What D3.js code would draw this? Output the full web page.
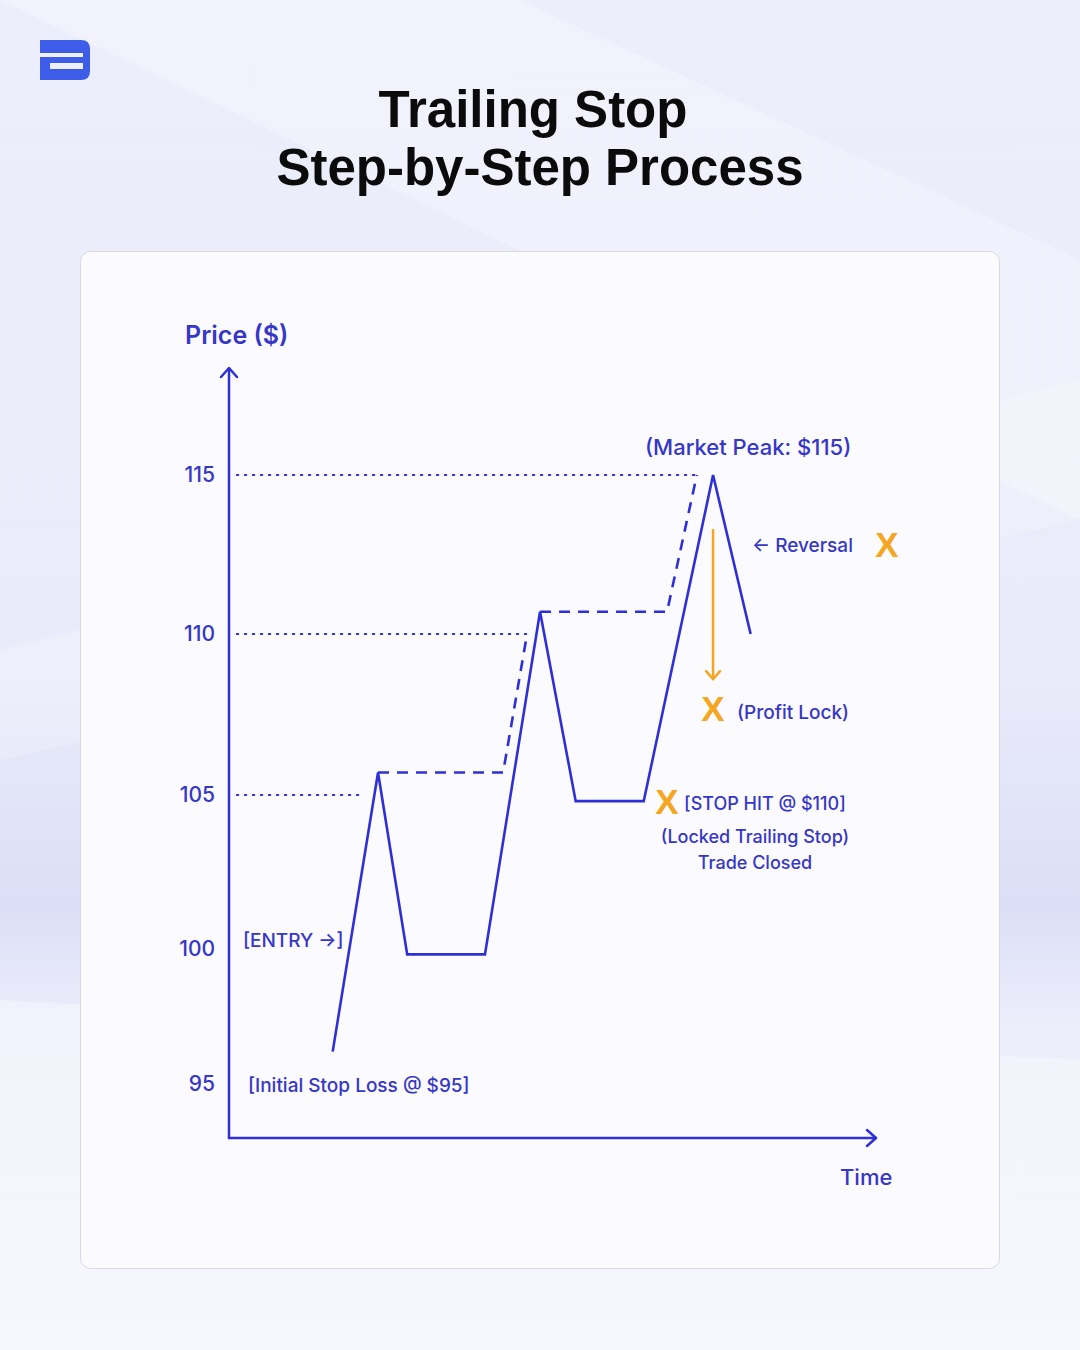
<html>
<head>
<meta charset="utf-8">
<script src="https://d3js.org/d3.v7.min.js"></script>
<style>
  body { margin: 0; background: #eef0fb; }
  svg { display: block; }
  .lbl { font-family: Inter, "Noto Sans", sans-serif; fill: #3636c9; font-weight: 500; }
</style>
</head>
<body>
<svg id="chart" width="1080" height="1350"></svg>
<script>
// price axis ticks and their (slightly uneven) positions in the picture
const priceTicks = [95, 100, 105, 110, 115];
const tickRows = [1084, 949, 795, 634, 475];

// price path: time (0-100 along the axis) and price
const pathTimes  = [16, 23, 27.5, 39.5, 48, 53.5, 64, 74.7, 80.5];
const pathPrices = [96.2, 105.7, 99.8, 99.8, 110.7, 104.8, 104.8, 115, 110];

// trailing stop, two dashed legs
const stop1Times  = [23, 42.3, 46];
const stop1Prices = [105.7, 105.7, 110];
const stop2Times  = [48, 67.6, 72.2];
const stop2Prices = [110.7, 110.7, 115];

// dotted guide lines to each level
const guideLevels = [115, 110, 105];
const guideEnds   = [72.2, 46, 20.7];

// profit lock arrow
const lockTime = 74.7;
const lockFrom = 113.3, lockTo = 108.6;

const svg = d3.select('#chart');
const blue = '#2f2fd8';
const orange = '#f5a623';

// background
const defs = svg.append('defs');
const bg = defs.append('linearGradient').attr('id', 'bg').attr('x1', 0).attr('y1', 0).attr('x2', 0).attr('y2', 1);
bg.append('stop').attr('offset', '0%').attr('stop-color', '#eceefb');
bg.append('stop').attr('offset', '50%').attr('stop-color', '#e9ebfa');
bg.append('stop').attr('offset', '67%').attr('stop-color', '#dcdef7');
bg.append('stop').attr('offset', '76%').attr('stop-color', '#eceefb');
bg.append('stop').attr('offset', '100%').attr('stop-color', '#f4f5fc');
svg.append('rect').attr('width', 1080).attr('height', 1350).attr('fill', 'url(#bg)');
svg.append('path').attr('d', 'M0,0 L520,0 L1080,260 L1080,520 Z').attr('fill', '#ffffff').attr('opacity', 0.25);
svg.append('path').attr('d', 'M0,650 L1080,380 L1080,520 L0,760 Z').attr('fill', '#ffffff').attr('opacity', 0.2);
svg.append('path').attr('d', 'M0,1000 L1080,1060 L1080,1350 L0,1350 Z').attr('fill', '#ffffff').attr('opacity', 0.3);

// logo
svg.append('path').attr('d', 'M40,40 H81 Q90,40 90,49 V71 Q90,80 81,80 H40 Z').attr('fill', '#3d5ce8');
svg.append('rect').attr('x', 40).attr('y', 53).attr('width', 43).attr('height', 4).attr('fill', '#eef0fb');
svg.append('rect').attr('x', 50).attr('y', 63).attr('width', 33).attr('height', 6).attr('fill', '#eef0fb');

// title
const title = svg.append('text').attr('text-anchor', 'middle')
  .style('font-family', '"Liberation Sans", Arial, sans-serif').style('font-weight', 'bold')
  .style('font-size', '51px').attr('fill', '#0b0b0b');
title.append('tspan').attr('x', 533).attr('y', 127).text('Trailing Stop');
title.append('tspan').attr('x', 540).attr('y', 185).text('Step-by-Step Process');

// card
svg.append('rect').attr('x', 80.5).attr('y', 251.5).attr('width', 919).attr('height', 1017).attr('rx', 10)
  .attr('fill', '#fbfbfe').attr('stroke', '#d7d8e3');

// scales
const x = d3.scaleLinear().domain([0, 100]).range([229, 877]);
const y = d3.scaleLinear().domain(priceTicks).range(tickRows);

// axes lines with arrows
const axisG = svg.append('g').attr('stroke', blue).attr('stroke-width', 2.5).attr('fill', 'none')
  .attr('stroke-linecap', 'round').attr('stroke-linejoin', 'round');
axisG.append('path').attr('d', `M${x(0)},1138 V369`);
axisG.append('path').attr('d', 'M221,377 L229,368 L237,377');
axisG.append('path').attr('d', `M${x(0)},1138 H876`);
axisG.append('path').attr('d', 'M867,1130 L876,1138 L867,1146');

// tick labels via d3 axis
const yAxis = svg.append('g').attr('transform', `translate(${x(0)},0)`)
  .call(d3.axisLeft(y).tickValues(priceTicks).tickSize(0).tickPadding(14));
yAxis.select('.domain').remove();
yAxis.selectAll('text').attr('class', 'lbl').style('font-size', '21px').attr('fill', '#3636c9');

svg.append('text').attr('class', 'lbl').attr('x', 185).attr('y', 344).style('font-size', '25px')
  .style('font-weight', 600).text('Price ($)');
svg.append('text').attr('class', 'lbl').attr('x', 840).attr('y', 1185).style('font-size', '22px').text('Time');

// dotted guides
svg.append('g').selectAll('line').data(guideLevels).join('line')
  .attr('x1', x(1.2)).attr('x2', (d, i) => x(guideEnds[i]))
  .attr('y1', d => y(d)).attr('y2', d => y(d))
  .attr('stroke', blue).attr('stroke-width', 2).attr('stroke-dasharray', '1.5 6.5').attr('stroke-linecap', 'round');

// trailing stop dashed legs
const line = d3.line().x(d => x(d[0])).y(d => y(d[1]));
[[stop1Times, stop1Prices], [stop2Times, stop2Prices]].forEach(([ts, ps]) => {
  svg.append('path').attr('d', line(ts.map((t, i) => [t, ps[i]])))
    .attr('fill', 'none').attr('stroke', blue).attr('stroke-width', 2.6)
    .attr('stroke-dasharray', '11 8');
});

// price path
svg.append('path').attr('d', line(pathTimes.map((t, i) => [t, pathPrices[i]])))
  .attr('fill', 'none').attr('stroke', blue).attr('stroke-width', 2.6).attr('stroke-linejoin', 'miter');

// profit lock arrow
const ax = x(lockTime);
svg.append('line').attr('x1', ax).attr('x2', ax).attr('y1', y(lockFrom)).attr('y2', y(lockTo))
  .attr('stroke', orange).attr('stroke-width', 2.5);
svg.append('path').attr('d', `M${ax - 7},${y(lockTo) - 8} L${ax},${y(lockTo)} L${ax + 7},${y(lockTo) - 8}`)
  .attr('fill', 'none').attr('stroke', orange).attr('stroke-width', 2.5).attr('stroke-linecap', 'round');

// annotations
function lbl(t, xx, yy, anchor, size) {
  svg.append('text').attr('class', 'lbl').attr('x', xx).attr('y', yy)
    .attr('text-anchor', anchor || 'start').style('font-size', (size || 19) + 'px').text(t);
}
function cross(xx, yy) {
  svg.append('text').attr('x', xx).attr('y', yy).attr('text-anchor', 'middle')
    .style('font-family', '"Liberation Sans", Arial, sans-serif').style('font-weight', 'bold')
    .style('font-size', '35px').attr('fill', orange).text('X');
}
lbl('(Market Peak: $115)', 645, 455, 'start', 22);
lbl('\u2190 Reversal', 752, 552);
cross(887, 557);
cross(713, 721);
lbl('(Profit Lock)', 737, 719);
cross(667, 814);
lbl('[STOP HIT @ $110]', 684, 810, 'start', 18);
lbl('(Locked Trailing Stop)', 755, 843, 'middle', 18);
lbl('Trade Closed', 755, 869, 'middle', 18);
lbl('[ENTRY \u2192]', 243, 947);
lbl('[Initial Stop Loss @ $95]', 248, 1092);
</script>
</body>
</html>
